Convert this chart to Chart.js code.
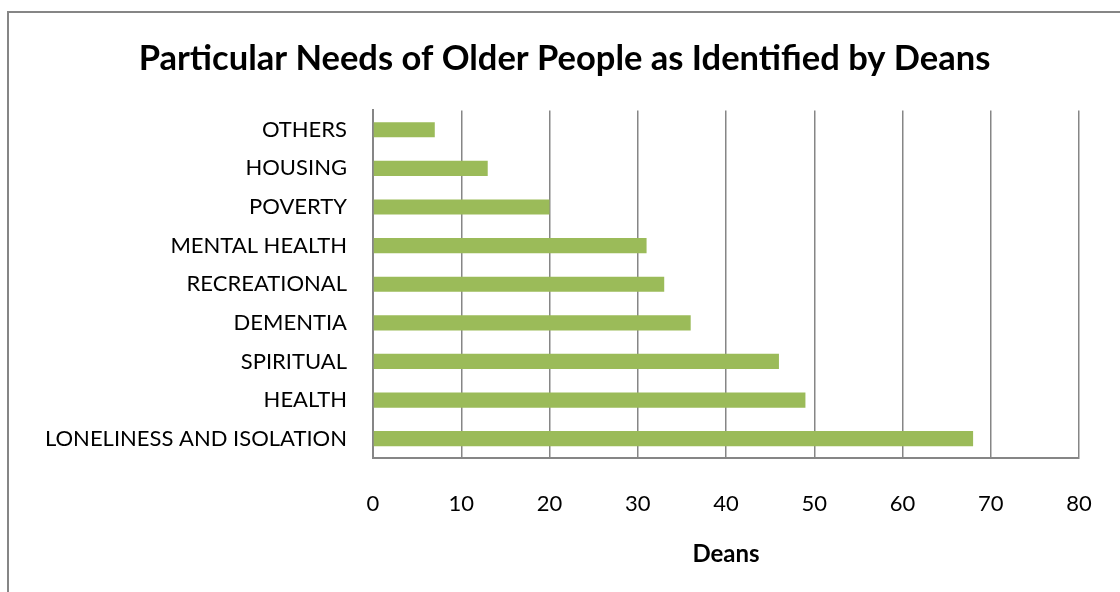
<!DOCTYPE html>
<html>
<head>
<meta charset="utf-8">
<script src="https://cdn.jsdelivr.net/npm/chart.js@4"></script>
<style>
  html, body { margin: 0; padding: 0; background: #fff; }
  #wrap { position: relative; width: 1120px; height: 592px; overflow: hidden; }
  #frame { position: absolute; left: 7px; top: 11px; width: 1200px; height: 700px;
           border-left: 2px solid #868686; border-top: 2px solid #868686; }
  canvas { position: absolute; left: 0; top: 0; }
</style>
</head>
<body>
<div id="wrap">
  <div id="frame"></div>
  <canvas id="needsChart" width="1120" height="592"></canvas>
</div>
<script>
// data
const needs = ["OTHERS", "HOUSING", "POVERTY", "MENTAL HEALTH", "RECREATIONAL",
               "DEMENTIA", "SPIRITUAL", "HEALTH", "LONELINESS AND ISOLATION"];
const deans = [7, 13, 20, 31, 33, 36, 46, 49, 68];
const xTicks = [0, 10, 20, 30, 40, 50, 60, 70, 80];

const GRID = "#868686";
const FONT = "Lato, 'Open Sans', sans-serif";

// nudge the title a bit right, the original is centred a little off the canvas middle
const titleShift = {
  id: "titleShift",
  afterLayout(chart) {
    if (chart.titleBlock) chart.titleBlock.left += 14;
  }
};

new Chart(document.getElementById("needsChart"), {
  type: "bar",
  data: {
    labels: needs,
    datasets: [{
      label: "Deans",
      data: deans,
      backgroundColor: "#9BBB59",
      categoryPercentage: 0.8,
      barPercentage: 0.49
    }]
  },
  options: {
    indexAxis: "y",
    responsive: false,
    animation: false,
    layout: { padding: { left: 36, right: 41, top: 0, bottom: 0 } },
    plugins: {
      legend: { display: false },
      tooltip: { enabled: false },
      title: {
        display: true,
        text: "Particular Needs of Older People as Identified by Deans",
        color: "#000",
        font: { family: FONT, size: 34.5, weight: "bold" },
        padding: { top: 38, bottom: 31 }
      }
    },
    scales: {
      x: {
        min: 0,
        max: 80,
        afterBuildTicks: s => { s.ticks = xTicks.map(v => ({ value: v })); },
        afterFit: s => { s.height = 134; },
        // long invisible tick marks push the labels down without widening the side padding
        grid: { color: GRID, lineWidth: 1.5, drawTicks: true, tickLength: 33, tickColor: "rgba(0,0,0,0)" },
        border: { color: GRID, width: 2 },
        ticks: { color: "#000", padding: 0, font: { family: FONT, size: 22 } },
        title: {
          display: true,
          text: "Deans",
          color: "#000",
          font: { family: FONT, size: 24, weight: "bold" },
          padding: { top: 0, bottom: 23 }
        }
      },
      y: {
        afterFit: s => { s.width = 337; },
        grid: { display: false, drawTicks: false },
        border: { color: GRID, width: 2 },
        ticks: { color: "#000", padding: 26, font: { family: FONT, size: 22 } }
      }
    }
  },
  plugins: [titleShift]
});
</script>
</body>
</html>
